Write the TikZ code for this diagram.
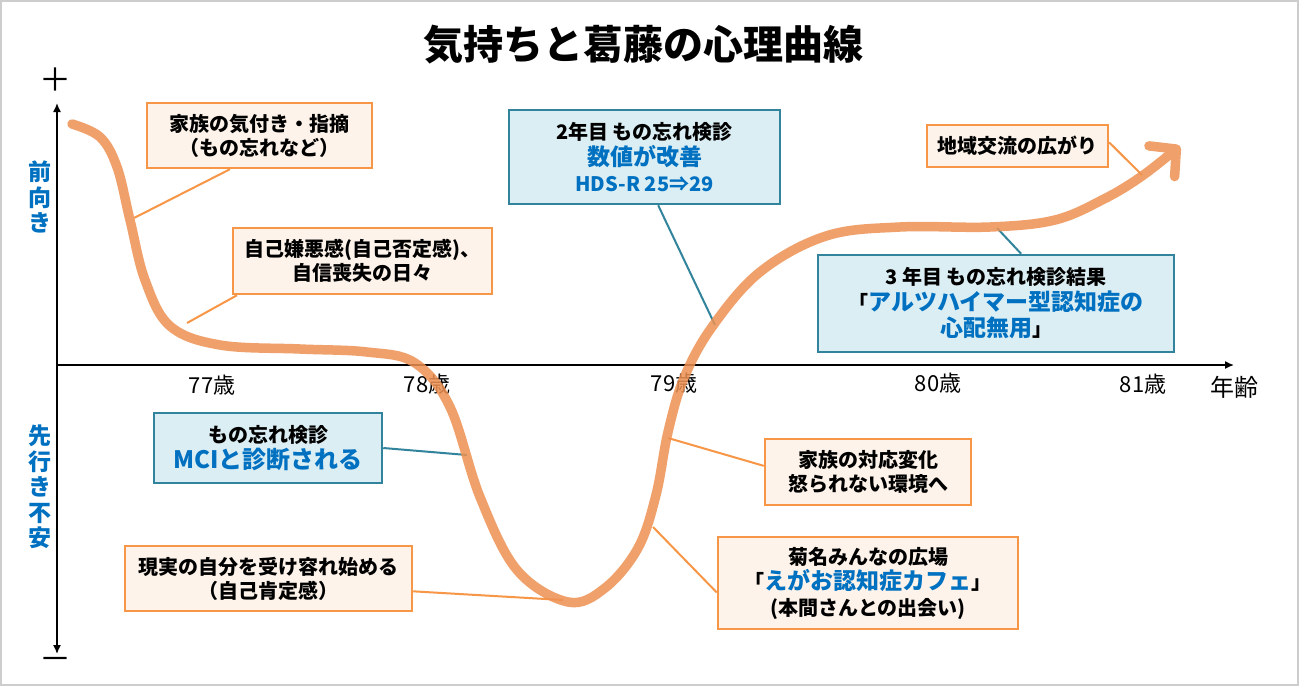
\documentclass[tikz,border=0pt]{standalone}
\usepackage{fontspec}
\setmainfont{Noto Sans CJK JP}
\usetikzlibrary{calc}
\usetikzlibrary{arrows.meta}

\definecolor{boxorange}{RGB}{247,150,70}
\definecolor{boxcream}{RGB}{253,243,234}
\definecolor{boxteal}{RGB}{49,132,155}
\definecolor{boxsky}{RGB}{219,238,244}
\definecolor{textblue}{RGB}{0,112,192}
\definecolor{curveorange}{RGB}{238,145,82}
\definecolor{framegray}{RGB}{205,205,205}

\newcommand{\bluetext}[1]{{\color{textblue}#1}}
\newcommand{\bigblue}[1]{{\color{textblue}\fontsize{23}{27}\selectfont #1}}

\tikzset{
	orangebox/.style={draw=boxorange, fill=boxcream, line width=2.5pt, align=center,
		inner sep=0pt, font=\bfseries\fontsize{20}{24}\selectfont},
	bluebox/.style={draw=boxteal, fill=boxsky, line width=2.5pt, align=center,
		inner sep=0pt, font=\bfseries\fontsize{20}{26}\selectfont},
	orangelink/.style={draw=boxorange, line width=2pt},
	bluelink/.style={draw=boxteal, line width=2pt},
	agelabel/.style={font=\fontsize{22}{26}\selectfont},
	sidelabel/.style={text=textblue, align=center, font=\bfseries\fontsize{23}{25.5}\selectfont},
}

\begin{document}
\begin{tikzpicture}[x=1pt, y=-1pt]

	\useasboundingbox (0,0) rectangle (1299,686);
	\fill[white] (0,0) rectangle (1299,686);
	\draw[framegray, line width=2pt] (1,1) rectangle (1298,685);

% Define coordinates.

	%axes
	\coordinate (origin) at (57, 365);
	\coordinate (up) at (57, 103);
	\coordinate (down) at (57, 654);
	\coordinate (age) at (1234, 365);

	%points where the connectors touch the curve
	\coordinate (noticeEnd) at (134, 218);
	\coordinate (doubtEnd) at (187, 323);
	\coordinate (mciEnd) at (467, 455);
	\coordinate (acceptEnd) at (563, 600);
	\coordinate (cafeEnd) at (653, 527);
	\coordinate (familyEnd) at (668, 438);
	\coordinate (scoreEnd) at (715, 325);
	\coordinate (resultEnd) at (997, 228);
	\coordinate (localEnd) at (1142, 175);

% Title.

	\node[font=\bfseries\fontsize{40}{44}\selectfont] (title) at (643, 45) {気持ちと葛藤の心理曲線};

% Draw axes.

	\draw[line width=1.5pt, {Latex[length=9pt, width=8pt]}-{Latex[length=9pt, width=8pt]}] (up) -- (down);
	\draw[line width=1.5pt, -{Latex[length=9pt, width=8pt]}] (origin) -- (age);

	\node[font=\fontsize{32}{32}\selectfont] (plus) at (55, 80) {＋};
	\node[font=\fontsize{32}{32}\selectfont] (minus) at (55, 664) {－};

	\node[sidelabel] (forward) at (40, 197) {前\\向\\き};
	\node[sidelabel] (anxious) at (40, 487) {先\\行\\き\\不\\安};

	\node[agelabel] (a77) at (212, 385) {77歳};
	\node[agelabel] (a78) at (427, 384) {78歳};
	\node[agelabel] (a79) at (674, 383) {79歳};
	\node[agelabel] (a80) at (938, 383) {80歳};
	\node[agelabel] (a81) at (1143, 384) {81歳};
	\node[font=\fontsize{24}{26}\selectfont] (ageword) at (1234, 387) {年齢};

% Draw boxes.

	\node[orangebox, minimum width=225, minimum height=65] (notice) at (259.5, 135.5)
		{家族の気付き・指摘\\（もの忘れなど）};
	\node[orangebox, minimum width=259, minimum height=66] (doubt) at (362.5, 261)
		{自己嫌悪感(自己否定感)、\\自信喪失の日々};
	\node[bluebox, minimum width=271, minimum height=94] (score) at (644.5, 157)
		{2年目 もの忘れ検診\\\bigblue{数値が改善}\\\bluetext{HDS-R 25⇒29}};
	\node[orangebox, minimum width=181, minimum height=42] (local) at (1017.5, 146)
		{地域交流の広がり};
	\node[bluebox, minimum width=356, minimum height=97] (result) at (996, 303.5)
		{3 年目 もの忘れ検診結果\\「\bigblue{アルツハイマー型認知症の}\\\bigblue{心配無用}」};
	\node[bluebox, minimum width=228, minimum height=70] (mci) at (268, 448)
		{もの忘れ検診\\\bluetext{\fontsize{24}{28}\selectfont MCIと診断される}};
	\node[orangebox, minimum width=287, minimum height=65] (accept) at (268.5, 578.5)
		{現実の自分を受け容れ始める\\（自己肯定感）};
	\node[orangebox, minimum width=206, minimum height=66] (family) at (868, 472)
		{家族の対応変化\\怒られない環境へ};
	\node[orangebox, minimum width=300, minimum height=92, font=\bfseries\fontsize{20}{25.5}\selectfont] (cafe) at (868, 583)
		{菊名みんなの広場\\「\bigblue{えがお認知症カフェ}」\\(本間さんとの出会い)};

% Draw connectors.

	\draw[orangelink] ($(notice.south west)!0.37!(notice.south east)$) -- (noticeEnd);
	\draw[orangelink] ($(doubt.south west)!0.02!(doubt.south east)$) -- (doubtEnd);
	\draw[bluelink] ($(score.south west)!0.55!(score.south east)$) -- (scoreEnd);
	\draw[orangelink] ($(local.north east)!0.42!(local.south east)$) -- (localEnd);
	\draw[bluelink] ($(result.north west)!0.57!(result.north east)$) -- (resultEnd);
	\draw[bluelink] (mci.east) -- (mciEnd);
	\draw[orangelink] ($(accept.north east)!0.69!(accept.south east)$) -- (acceptEnd);
	\draw[orangelink] ($(family.north west)!0.41!(family.south west)$) -- (familyEnd);
	\draw[orangelink] ($(cafe.north west)!0.6!(cafe.south west)$) -- (cafeEnd);

% Draw the curve.

	\begin{scope}[transparency group, opacity=0.85]
	\draw[curveorange, line width=9.5pt, line cap=round, line join=round,
		-{Straight Barb[length=19pt, width=40pt, line cap=round, line join=round]}]
		plot[smooth, tension=0.6] coordinates {(72,124) (100,137) (117,167) (130,220)
		(145,280) (170,326) (220,345) (300,349) (367,352) (415,363) (450,407) (480,497)
		(517,570) (568,602) (605,588) (638,548) (656,495) (668,432) (684,378) (712,327)
		(760,272) (826,236) (900,227) (990,227) (1055,220) (1104,199) (1142,176) (1180,146)};
	\end{scope}

\end{tikzpicture}
\end{document}
